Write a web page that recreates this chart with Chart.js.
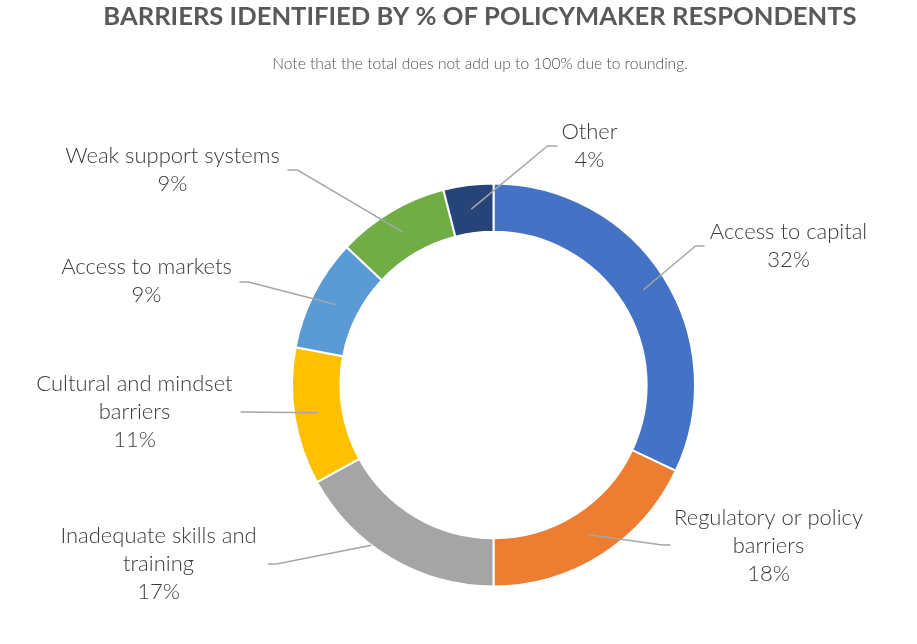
<!DOCTYPE html>
<html>
<head>
<meta charset="utf-8">
<script src="https://cdn.jsdelivr.net/npm/chart.js@4.4.1/dist/chart.umd.min.js"></script>
<style>
  html, body { margin: 0; padding: 0; background: #ffffff; }
  #wrap { width: 917px; height: 644px; position: relative; }
</style>
</head>
<body>
<div id="wrap"><canvas id="c" width="917" height="644"></canvas></div>
<script>
// ---- data ----
const titleText = 'BARRIERS IDENTIFIED BY % OF POLICYMAKER RESPONDENTS';
const subtitleText = 'Note that the total does not add up to 100% due to rounding.';
const categories = [
  'Access to capital',
  'Regulatory or policy barriers',
  'Inadequate skills and training',
  'Cultural and mindset barriers',
  'Access to markets',
  'Weak support systems',
  'Other'
];
const values = [32, 18, 17, 11, 9, 9, 4];
// wrapped label lines (text only)
const labelLines = [
  ['Access to capital'],
  ['Regulatory or policy', 'barriers'],
  ['Inadequate skills and', 'training'],
  ['Cultural and mindset', 'barriers'],
  ['Access to markets'],
  ['Weak support systems'],
  ['Other']
];
// ---- styles ----
const colors = ['#4472C4', '#ED7D31', '#A5A5A5', '#FFC000', '#5B9BD5', '#70AD47', '#264478'];
// label layout relative to the doughnut centre: anchor position in the arc, elbow, stub end, text centre
const labelLayout = [
  { frac: 0.5, ring: 'mid',   elbow: [202, -139], end: [211, -139], text: [295, -153] },
  { frac: 0.5, ring: 'mid',   elbow: [169, 160],  end: [177, 160],  text: [275, 133] },
  { frac: 0.61, ring: 'outer', elbow: [-217, 179], end: [-226, 179], text: [-335, 151] },
  { frac: 0.5, ring: 'mid',   elbow: [-253, 27],  end: [-253, 27],  text: [-359, -1] },
  { frac: 0.5, ring: 'mid',   elbow: [-245, -103], end: [-254, -103], text: [-347, -118] },
  { frac: 0.5, ring: 'mid',   elbow: [-196, -215], end: [-206, -215], text: [-321, -229] },
  { frac: 0.5, ring: 'mid',   elbow: [54, -239],  end: [64, -239],  text: [96, -253] }
];
const labelFont = '300 22px Lato, "Open Sans", sans-serif';
const lineGap = 28;

const labelPlugin = {
  id: 'outerLabels',
  afterDatasetsDraw(chart) {
    const ctx = chart.ctx;
    const meta = chart.getDatasetMeta(0);
    ctx.save();
    // title + subtitle
    ctx.fillStyle = '#595959';
    ctx.textAlign = 'center';
    ctx.textBaseline = 'middle';
    ctx.font = 'bold 25.6px Lato, sans-serif';
    ctx.fillText(titleText, 480, 17);
    ctx.fillStyle = '#505050';
    ctx.font = '300 15.6px Lato, sans-serif';
    ctx.fillText(subtitleText, 480, 64);

    meta.data.forEach((arc, i) => {
      const p = arc.getProps(['x', 'y', 'startAngle', 'endAngle', 'innerRadius', 'outerRadius'], true);
      const L = labelLayout[i];
      const a = p.startAngle + L.frac * (p.endAngle - p.startAngle);
      const r = L.ring === 'outer' ? p.outerRadius : (p.innerRadius + p.outerRadius) / 2;
      const sx = p.x + r * Math.cos(a), sy = p.y + r * Math.sin(a);
      ctx.strokeStyle = '#A6A6A6';
      ctx.lineWidth = 1.5;
      ctx.beginPath();
      ctx.moveTo(sx, sy);
      ctx.lineTo(p.x + L.elbow[0], p.y + L.elbow[1]);
      ctx.lineTo(p.x + L.end[0], p.y + L.end[1]);
      ctx.stroke();
      const lines = labelLines[i].concat([values[i] + '%']);
      ctx.fillStyle = '#3a3a3a';
      ctx.font = labelFont;
      ctx.textAlign = 'center';
      ctx.textBaseline = 'middle';
      lines.forEach((t, k) => {
        ctx.fillText(t, p.x + L.text[0], p.y + L.text[1] + k * lineGap);
      });
    });
    ctx.restore();
  }
};

new Chart(document.getElementById('c'), {
  type: 'doughnut',
  data: {
    labels: categories,
    datasets: [{
      data: values,
      backgroundColor: colors,
      borderColor: '#ffffff',
      borderWidth: 2,
      hoverOffset: 0
    }]
  },
  options: {
    responsive: false,
    animation: false,
    cutout: '76%',
    layout: { padding: { top: 182, bottom: 56, left: 291, right: 221 } },
    plugins: {
      legend: { display: false },
      tooltip: { enabled: false },
      title: { display: false }
    }
  },
  plugins: [labelPlugin]
});
</script>
</body>
</html>
